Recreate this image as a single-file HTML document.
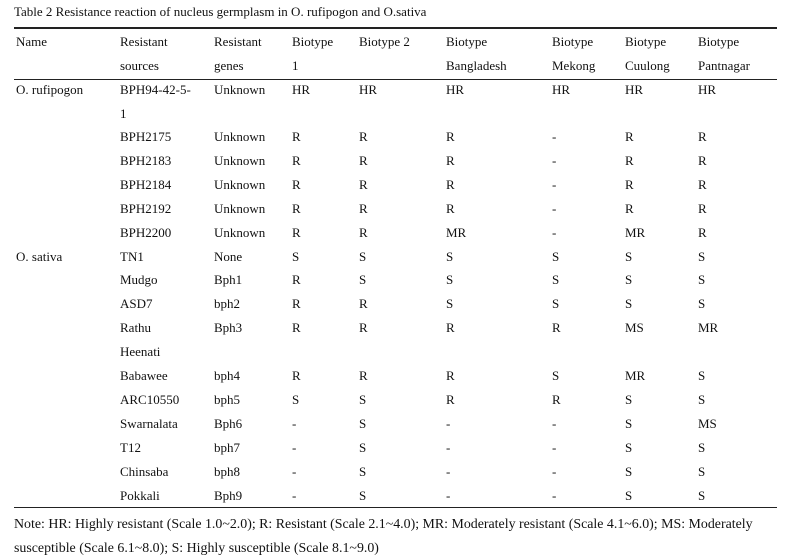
<!DOCTYPE html><html><head><style>
body{margin:0;width:810px;height:557px;background:#fff;position:relative;font-family:"Liberation Serif",serif;font-size:13px;color:#111;overflow:hidden}
div.t{position:absolute;white-space:nowrap;line-height:16px}
.l{position:absolute;left:14px;width:763px;background:#222}
</style></head><body>
<div class="t" style="left:14px;top:4px">Table 2 Resistance reaction of nucleus germplasm in O. rufipogon and O.sativa</div>
<div class="l" style="top:27px;height:1.5px"></div>
<div class="l" style="top:79px;height:1px"></div>
<div class="l" style="top:507px;height:1px"></div>
<div id="c"></div>
<div class="t" style="left:14px;top:517px;font-size:13.9px">Note: HR: Highly resistant (Scale 1.0~2.0); R: Resistant (Scale 2.1~4.0); MR: Moderately resistant (Scale 4.1~6.0); MS: Moderately</div>
<div class="t" style="left:14px;top:541px;font-size:13.9px">susceptible (Scale 6.1~8.0); S: Highly susceptible (Scale 8.1~9.0)</div>
<script>
var xs=[16,120,214,292,359,446,552,625,698];
var rows=[
[34,["Name","Resistant","Resistant","Biotype","Biotype 2","Biotype","Biotype","Biotype","Biotype"]],
[58,["","sources","genes","1","","Bangladesh","Mekong","Cuulong","Pantnagar"]],
[82,["O. rufipogon","BPH94-42-5-","Unknown","HR","HR","HR","HR","HR","HR"]],
[106,["","1"]],
[129,["","BPH2175","Unknown","R","R","R","-","R","R"]],
[153,["","BPH2183","Unknown","R","R","R","-","R","R"]],
[177,["","BPH2184","Unknown","R","R","R","-","R","R"]],
[201,["","BPH2192","Unknown","R","R","R","-","R","R"]],
[225,["","BPH2200","Unknown","R","R","MR","-","MR","R"]],
[249,["O. sativa","TN1","None","S","S","S","S","S","S"]],
[272,["","Mudgo","Bph1","R","S","S","S","S","S"]],
[296,["","ASD7","bph2","R","R","S","S","S","S"]],
[320,["","Rathu","Bph3","R","R","R","R","MS","MR"]],
[344,["","Heenati"]],
[368,["","Babawee","bph4","R","R","R","S","MR","S"]],
[392,["","ARC10550","bph5","S","S","R","R","S","S"]],
[416,["","Swarnalata","Bph6","-","S","-","-","S","MS"]],
[440,["","T12","bph7","-","S","-","-","S","S"]],
[464,["","Chinsaba","bph8","-","S","-","-","S","S"]],
[488,["","Pokkali","Bph9","-","S","-","-","S","S"]]];
var h="";rows.forEach(function(r){r[1].forEach(function(s,i){if(s)h+='<div class="t" style="left:'+xs[i]+'px;top:'+r[0]+'px">'+s+'</div>';});});
document.getElementById("c").innerHTML=h;
</script>
</body></html>
